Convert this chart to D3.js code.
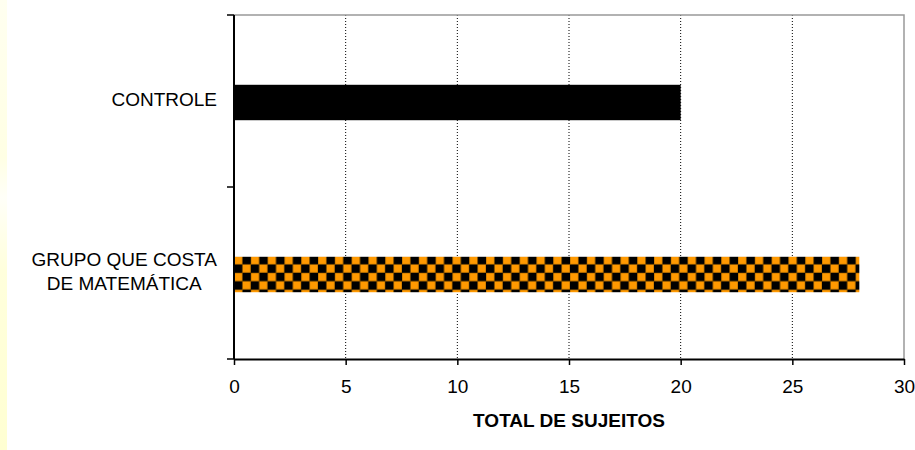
<!DOCTYPE html>
<html>
<head>
<meta charset="utf-8">
<script src="https://cdn.jsdelivr.net/npm/d3@7"></script>
<style>
  html, body { margin: 0; padding: 0; background: #fff; }
  svg { display: block; font-family: "Liberation Sans", Arial, sans-serif; }
</style>
</head>
<body>
<svg id="chart" width="915" height="450"></svg>
<script>
// Categories (top to bottom) and their totals
const categories = ["CONTROLE", "GRUPO QUE COSTA\nDE MATEMÁTICA"];
const totals = [20, 28];
const xTicks = [0, 5, 10, 15, 20, 25, 30];
const xTitle = "TOTAL DE SUJEITOS";

const svg = d3.select("#chart");
const plot = { left: 234, right: 904, top: 15, bottom: 359 };

// Thin pale-yellow strip along the left edge
const defs = svg.append("defs");
const grad = defs.append("linearGradient").attr("id", "strip")
  .attr("x1", 0).attr("y1", 0).attr("x2", 0).attr("y2", 1);
[["0", "#fffff0"], ["0.35", "#ffffe4"], ["0.44", "#fffff8"], ["0.6", "#ffffdc"], ["1", "#ffffd2"]]
  .forEach(([o, c]) => grad.append("stop").attr("offset", o).attr("stop-color", c));
svg.append("rect").attr("x", 0).attr("y", 0).attr("width", 7).attr("height", 450)
  .attr("fill", "url(#strip)");

// Orange / black checkerboard fill
const cell = 8.4;
const pat = defs.append("pattern").attr("id", "checker")
  .attr("patternUnits", "userSpaceOnUse")
  .attr("width", cell * 2).attr("height", cell * 2)
  .attr("x", plot.left).attr("y", 256);
pat.append("rect").attr("width", cell * 2).attr("height", cell * 2).attr("fill", "#000");
[[0, 0], [cell, cell]].forEach(([px, py]) =>
  pat.append("rect").attr("x", px).attr("y", py).attr("width", cell).attr("height", cell)
    .attr("fill", "#ff9900").attr("stroke", "#7a4a00").attr("stroke-width", 0.6));

const x = d3.scaleLinear().domain([0, 30]).range([plot.left, plot.right]);
const y = d3.scalePoint().domain(categories).range([plot.top, plot.bottom]).padding(0.5);
const step = y.step();
const barH = step * 0.206;
const fills = ["#000", "url(#checker)"];

// Dotted vertical gridlines
svg.append("g").selectAll("line").data(xTicks.filter(t => t > 0 && t < 30)).join("line")
  .attr("x1", d => x(d)).attr("x2", d => x(d))
  .attr("y1", plot.top).attr("y2", plot.bottom)
  .attr("stroke", "#000").attr("stroke-width", 1).attr("stroke-dasharray", "1,2");

// Plot frame (top and right, grey)
svg.append("path")
  .attr("d", `M${plot.left},${plot.top}H${plot.right}V${plot.bottom}`)
  .attr("fill", "none").attr("stroke", "#999").attr("stroke-width", 1.5);

// Bars
svg.append("g").selectAll("rect").data(categories).join("rect")
  .attr("x", x(0))
  .attr("y", d => y(d) - barH / 2 + 1.5)
  .attr("width", (d, i) => x(totals[i]) - x(0))
  .attr("height", barH)
  .attr("fill", (d, i) => fills[i]);

// X axis
const xAxis = svg.append("g").attr("transform", `translate(0,${plot.bottom})`)
  .call(d3.axisBottom(x).tickValues(xTicks).tickSize(6).tickSizeOuter(0).tickPadding(15));
xAxis.select(".domain").attr("stroke", "#000").attr("stroke-width", 2);
xAxis.selectAll(".tick line").attr("stroke", "#000").attr("stroke-width", 1.5);
xAxis.selectAll(".tick text").attr("font-size", 19).attr("fill", "#000")
  .attr("font-family", "Liberation Sans, Arial, sans-serif");

// Y axis: line plus ticks at band boundaries
svg.append("line").attr("x1", plot.left).attr("x2", plot.left)
  .attr("y1", plot.top).attr("y2", plot.bottom).attr("stroke", "#000").attr("stroke-width", 2);
const boundaries = [plot.top, ...categories.slice(0, -1).map(c => y(c) + step / 2), plot.bottom];
svg.append("g").selectAll("line").data(boundaries).join("line")
  .attr("x1", plot.left - 7).attr("x2", plot.left)
  .attr("y1", d => d).attr("y2", d => d)
  .attr("stroke", "#000").attr("stroke-width", 1.5);

// Category labels: block right-aligned, lines centred within it
const labelRight = 217;
const lineH = 24;
categories.forEach(c => {
  const lines = c.split("\n");
  const g = svg.append("g");
  const texts = lines.map((ln, i) => g.append("text")
    .attr("font-size", 19).attr("fill", "#000")
    .attr("y", y(c) + 5 - (lines.length - 1) * lineH / 2 + i * lineH)
    .text(ln));
  const w = d3.max(texts, t => t.node().getComputedTextLength());
  texts.forEach(t => t.attr("x", labelRight - w / 2).attr("text-anchor", "middle"));
});

// Axis title
svg.append("text")
  .attr("x", (plot.left + plot.right) / 2).attr("y", 427)
  .attr("text-anchor", "middle").attr("font-size", 19).attr("font-weight", "bold")
  .text(xTitle);
</script>
</body>
</html>
